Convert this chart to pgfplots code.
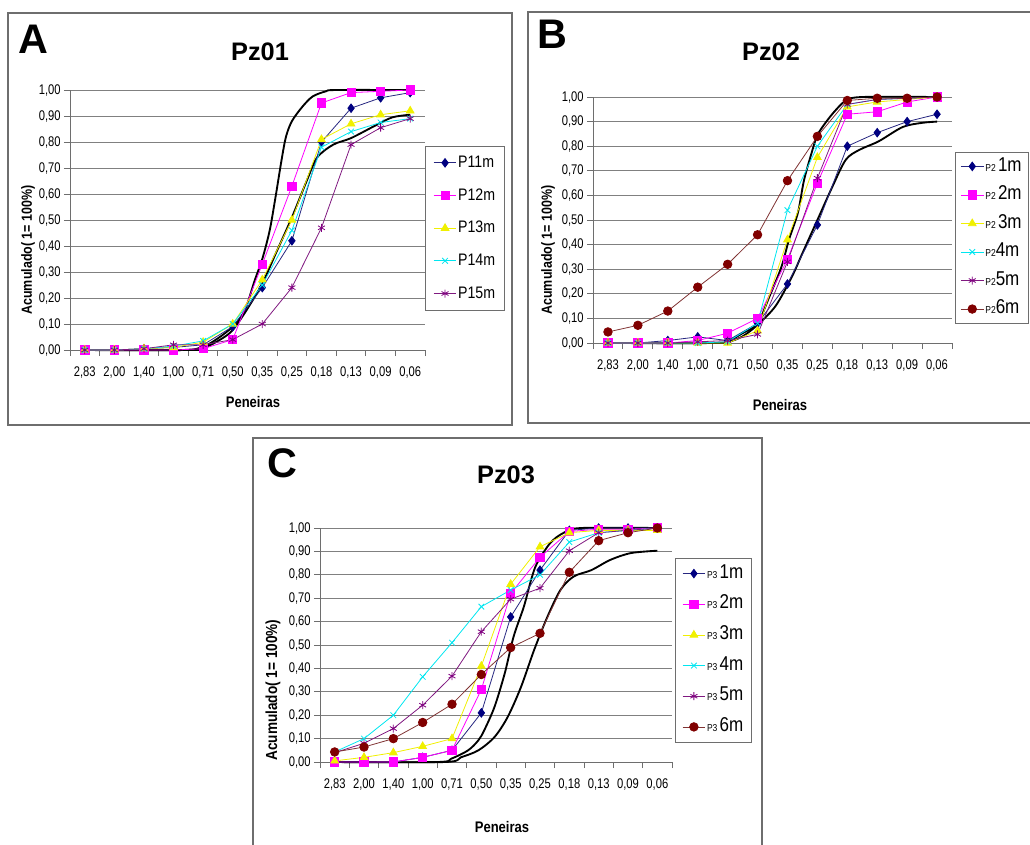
\documentclass[border=0pt]{standalone}
\usepackage{fontspec}
\setmainfont{Liberation Sans}
\newfontfamily\cond[FakeStretch=0.85]{Liberation Sans}
\newfontfamily\condt[FakeStretch=0.8]{Liberation Sans}
\usepackage{pgfplots}
\pgfplotsset{compat=1.18}

\definecolor{cnavy}{RGB}{0,0,128}
\definecolor{cmag}{RGB}{255,0,255}
\definecolor{cyel}{RGB}{240,240,0}
\definecolor{ccyan}{RGB}{0,230,240}
\definecolor{cpur}{RGB}{128,0,128}
\definecolor{cdred}{RGB}{128,0,0}
\definecolor{frame}{RGB}{110,110,110}

\pgfplotsset{
  panel/.style={
    scale only axis, clip=false,
    xmin=-0.5, xmax=11.5, ymin=0, ymax=1,
    axis lines=left, axis line style={-, draw=frame, line width=0.7pt},
    xtick={0,1,2,3,4,5,6,7,8,9,10,11},
    xticklabels={{2,83},{2,00},{1,40},{1,00},{0,71},{0,50},{0,35},{0,25},{0,18},{0,13},{0,09},{0,06}},
    minor xtick={-0.5,0.5,1.5,2.5,3.5,4.5,5.5,6.5,7.5,8.5,9.5,10.5,11.5},
    major x tick style={draw=none},
    minor x tick style={draw=frame, line width=0.7pt},
    ytick={0,0.1,0.2,0.3,0.4,0.5,0.6,0.7,0.8,0.9,1},
    yticklabels={{0,00},{0,10},{0,20},{0,30},{0,40},{0,50},{0,60},{0,70},{0,80},{0,90},{1,00}},
    ytick style={draw=frame, line width=0.7pt},
    tick align=outside, major tick length=4.5pt, minor tick length=4.5pt,
    ymajorgrids, grid style={draw=gray, line width=0.6pt},
    tick label style={font=\condt\fontsize{10.5}{10.5}\selectfont},
    xticklabel style={yshift=-4.5pt},
    yticklabel style={xshift=1pt},
    legend cell align=left,
  },
  s1/.style={color=cnavy!70!gray, line width=0.6pt, mark=diamond*, mark size=3.2pt, mark options={solid, fill=cnavy, draw=cnavy}},
  s2/.style={color=cmag, line width=0.6pt, mark=square*, mark size=3.1pt, mark options={solid, fill=cmag, draw=cmag}},
  s3/.style={color=cyel, line width=0.6pt, mark=triangle*, mark size=3.3pt, mark options={solid, fill=cyel, draw=cyel}},
  s4/.style={color=ccyan, line width=0.6pt, mark=x, mark size=3pt, mark options={solid, draw=ccyan}},
  s5/.style={color=cpur!80!gray, line width=0.6pt, mark=asterisk, mark size=3pt, mark options={solid, draw=cpur}},
  s6/.style={color=cdred!60!gray, line width=0.6pt, mark=*, mark size=3.2pt, mark options={solid, fill=cdred, draw=cdred}},
  ref/.style={black, line width=1.4pt, smooth, tension=0.5, no marks, forget plot},
}

\newcommand{\sm}[1]{{\fontsize{7.5}{8}\selectfont #1}}
\newcommand{\bg}[1]{{\fontsize{15}{15}\selectfont #1}}

\begin{document}
\begin{tikzpicture}
\path[use as bounding box] (0pt,0pt) rectangle (772.5pt,-633pt);
\clip (0pt,0pt) rectangle (772.5pt,-633pt);

% ---------------- Panel A ----------------
\begin{axis}[panel,
  at={(52.5pt,-262.5pt)}, anchor=south west,
  width=266.25pt, height=195pt,
  legend style={at={(1.0,0.785)}, anchor=north west, draw=frame, fill=white,
    font=\cond\fontsize{12.5}{12.5}\selectfont, inner sep=6pt, row sep=11.5pt,
    nodes={inner sep=1pt, text height=9pt, text depth=2pt}},
]
\addplot[ref] coordinates {(0,0)(3.3,0)(4,0.013)(4.5,0.045)(5,0.09)(5.4,0.15)(5.75,0.27)(6,0.35)(6.25,0.46)(6.45,0.59)(6.65,0.73)(6.8,0.82)(7.0,0.88)(7.35,0.935)(7.7,0.975)(8.15,0.995)(8.5,1.0)(11,1.0)};
\addplot[ref] coordinates {(0,0)(3.5,0)(4,0.006)(4.65,0.045)(5,0.077)(5.45,0.15)(6,0.256)(6.45,0.37)(7,0.51)(7.5,0.65)(7.85,0.74)(8.4,0.79)(9,0.815)(9.85,0.865)(10.4,0.895)(11,0.905)};
\addplot[s1] coordinates {(0,0)(1,0)(2,0.005)(3,0.01)(4,0.02)(5,0.09)(6,0.24)(7,0.42)(8,0.80)(9,0.93)(10,0.97)(11,0.99)};
\addlegendentry{P11m}
\addplot[s2] coordinates {(0,0)(1,0)(2,0)(3,0)(4,0.005)(5,0.04)(6,0.33)(7,0.63)(8,0.95)(9,0.99)(10,0.995)(11,1.0)};
\addlegendentry{P12m}
\addplot[s3] coordinates {(0,0)(1,0)(2,0.005)(3,0.01)(4,0.03)(5,0.10)(6,0.27)(7,0.50)(8,0.81)(9,0.87)(10,0.905)(11,0.92)};
\addlegendentry{P13m}
\addplot[s4] coordinates {(0,0)(1,0)(2,0.005)(3,0.015)(4,0.035)(5,0.10)(6,0.25)(7,0.46)(8,0.78)(9,0.84)(10,0.875)(11,0.89)};
\addlegendentry{P14m}
\addplot[s5] coordinates {(0,0)(1,0)(2,0.005)(3,0.02)(4,0.02)(5,0.04)(6,0.10)(7,0.24)(8,0.47)(9,0.79)(10,0.855)(11,0.89)};
\addlegendentry{P15m}
\end{axis}

% ---------------- Panel B ----------------
\begin{axis}[panel,
  at={(444.75pt,-257.25pt)}, anchor=south west,
  width=269.25pt, height=184.5pt,
  legend style={at={(1.008,0.776)}, anchor=north west, draw=frame, fill=white,
    font=\cond, inner sep=4pt, row sep=8.4pt,
    nodes={inner sep=1pt, text height=9pt, text depth=2pt}},
]
\addplot[ref] coordinates {(0,0)(3.5,0)(4,0.007)(4.5,0.04)(5,0.08)(5.4,0.19)(5.8,0.31)(6.05,0.42)(6.35,0.53)(6.55,0.66)(6.8,0.77)(7,0.845)(7.3,0.90)(7.6,0.945)(7.95,0.985)(8.5,1.0)(11,1.0)};
\addplot[ref] coordinates {(0,0)(3.5,0)(4,0.004)(4.5,0.027)(5,0.074)(5.6,0.15)(6.15,0.27)(6.5,0.365)(7,0.50)(7.5,0.635)(7.95,0.745)(8.4,0.785)(9.05,0.82)(9.85,0.878)(10.5,0.895)(11,0.90)};
\addplot[s1] coordinates {(0,0)(1,0)(2,0.01)(3,0.025)(4,0.01)(5,0.08)(6,0.24)(7,0.48)(8,0.80)(9,0.855)(10,0.90)(11,0.93)};
\addlegendentry{\sm{P2}\,\bg{1m}}
\addplot[s2] coordinates {(0,0)(1,0)(2,0)(3,0.01)(4,0.04)(5,0.10)(6,0.34)(7,0.65)(8,0.93)(9,0.94)(10,0.98)(11,1.0)};
\addlegendentry{\sm{P2}\,\bg{2m}}
\addplot[s3] coordinates {(0,0)(1,0)(2,0)(3,0)(4,0)(5,0.05)(6,0.42)(7,0.755)(8,0.96)(9,0.98)(10,0.99)(11,1.0)};
\addlegendentry{\sm{P2}\,\bg{3m}}
\addplot[s4] coordinates {(0,0)(1,0)(2,0)(3,0)(4,0.005)(5,0.08)(6,0.54)(7,0.80)(8,0.97)(9,0.99)(10,0.995)(11,1.0)};
\addlegendentry{\sm{P2}\bg{4m}}
\addplot[s5] coordinates {(0,0)(1,0)(2,0)(3,0.005)(4,0.01)(5,0.035)(6,0.33)(7,0.67)(8,0.97)(9,0.99)(10,0.995)(11,1.0)};
\addlegendentry{\sm{P2}\bg{5m}}
\addplot[s6] coordinates {(0,0.045)(1,0.072)(2,0.13)(3,0.227)(4,0.32)(5,0.44)(6,0.66)(7,0.84)(8,0.986)(9,0.995)(10,0.995)(11,1.0)};
\addlegendentry{\sm{P2}\bg{6m}}
\end{axis}

% ---------------- Panel C ----------------
\begin{axis}[panel,
  at={(240pt,-571.5pt)}, anchor=south west,
  width=264pt, height=175.5pt,
  legend style={at={(1.009,0.872)}, anchor=north west, draw=frame, fill=white,
    font=\cond, inner sep=5pt, row sep=10pt,
    nodes={inner sep=1pt, text height=9pt, text depth=2pt}},
]
\addplot[ref] coordinates {(0,0)(3.5,0)(3.97,0.014)(4.55,0.05)(4.9,0.093)(5.1,0.136)(5.45,0.236)(5.8,0.38)(6.1,0.536)(6.45,0.664)(6.7,0.78)(6.9,0.85)(7.35,0.936)(7.8,0.979)(8.4,1.0)(11,1.0)};
\addplot[ref] coordinates {(0,0)(3.75,0)(4.3,0.02)(4.9,0.05)(5.45,0.107)(5.9,0.193)(6.35,0.32)(6.8,0.479)(7.25,0.62)(7.7,0.736)(8.15,0.793)(8.75,0.82)(9.4,0.864)(10.1,0.893)(11,0.903)};
\addplot[s1] coordinates {(0,0)(1,0)(2,0)(3,0.02)(4,0.05)(5,0.21)(6,0.62)(7,0.82)(8,0.99)(9,1.0)(10,1.0)(11,1.0)};
\addlegendentry{\sm{P3}\,\bg{1m}}
\addplot[s2] coordinates {(0,0)(1,0)(2,0)(3,0.02)(4,0.05)(5,0.31)(6,0.72)(7,0.875)(8,0.985)(9,0.995)(10,0.995)(11,1.0)};
\addlegendentry{\sm{P3}\,\bg{2m}}
\addplot[s3] coordinates {(0,0.005)(1,0.02)(2,0.04)(3,0.067)(4,0.10)(5,0.41)(6,0.76)(7,0.92)(8,0.98)(9,0.99)(10,0.99)(11,0.99)};
\addlegendentry{\sm{P3}\,\bg{3m}}
\addplot[s4] coordinates {(0,0.043)(1,0.10)(2,0.20)(3,0.364)(4,0.51)(5,0.664)(6,0.735)(7,0.80)(8,0.94)(9,0.98)(10,0.99)(11,1.0)};
\addlegendentry{\sm{P3}\,\bg{4m}}
\addplot[s5] coordinates {(0,0.04)(1,0.08)(2,0.143)(3,0.243)(4,0.367)(5,0.557)(6,0.696)(7,0.743)(8,0.903)(9,0.98)(10,0.99)(11,1.0)};
\addlegendentry{\sm{P3}\,\bg{5m}}
\addplot[s6] coordinates {(0,0.043)(1,0.064)(2,0.10)(3,0.169)(4,0.247)(5,0.374)(6,0.489)(7,0.55)(8,0.811)(9,0.946)(10,0.98)(11,1.0)};
\addlegendentry{\sm{P3}\,\bg{6m}}
\end{axis}

% ---------------- frames and texts ----------------
\begin{scope}[x=0.75pt, y=-0.75pt]
\draw[frame, line width=0.8pt] (8,13) rectangle (512,425);
\draw[frame, line width=0.8pt] (528,12) rectangle (1045,423);
\draw[frame, line width=0.8pt] (253,438) rectangle (762,860);

\node[font=\bfseries\fontsize{31}{31}\selectfont] at (33,39) {A};
\node[font=\bfseries\fontsize{31}{31}\selectfont] at (552,34) {B};
\node[font=\bfseries\fontsize{31}{31}\selectfont] at (282,463) {C};

\node[font=\bfseries\fontsize{19}{19}\selectfont] at (260,52) {Pz01};
\node[font=\bfseries\fontsize{19}{19}\selectfont] at (771,52) {Pz02};
\node[font=\bfseries\fontsize{19}{19}\selectfont] at (506,475) {Pz03};

\node[font=\cond\bfseries\fontsize{11.5}{11.5}\selectfont] at (253,402) {Peneiras};
\node[font=\cond\bfseries\fontsize{11.5}{11.5}\selectfont] at (780,405) {Peneiras};
\node[font=\cond\bfseries\fontsize{11.5}{11.5}\selectfont] at (502,827) {Peneiras};

\node[font=\cond\bfseries\fontsize{11}{11}\selectfont, rotate=90] at (28,250) {Acumulado( 1= 100\%)};
\node[font=\cond\bfseries\fontsize{11}{11}\selectfont, rotate=90] at (548,250) {Acumulado( 1= 100\%)};
\node[font=\cond\bfseries\fontsize{12}{12}\selectfont, rotate=90] at (273,690) {Acumulado( 1= 100\%)};
\end{scope}
\end{tikzpicture}
\end{document}
